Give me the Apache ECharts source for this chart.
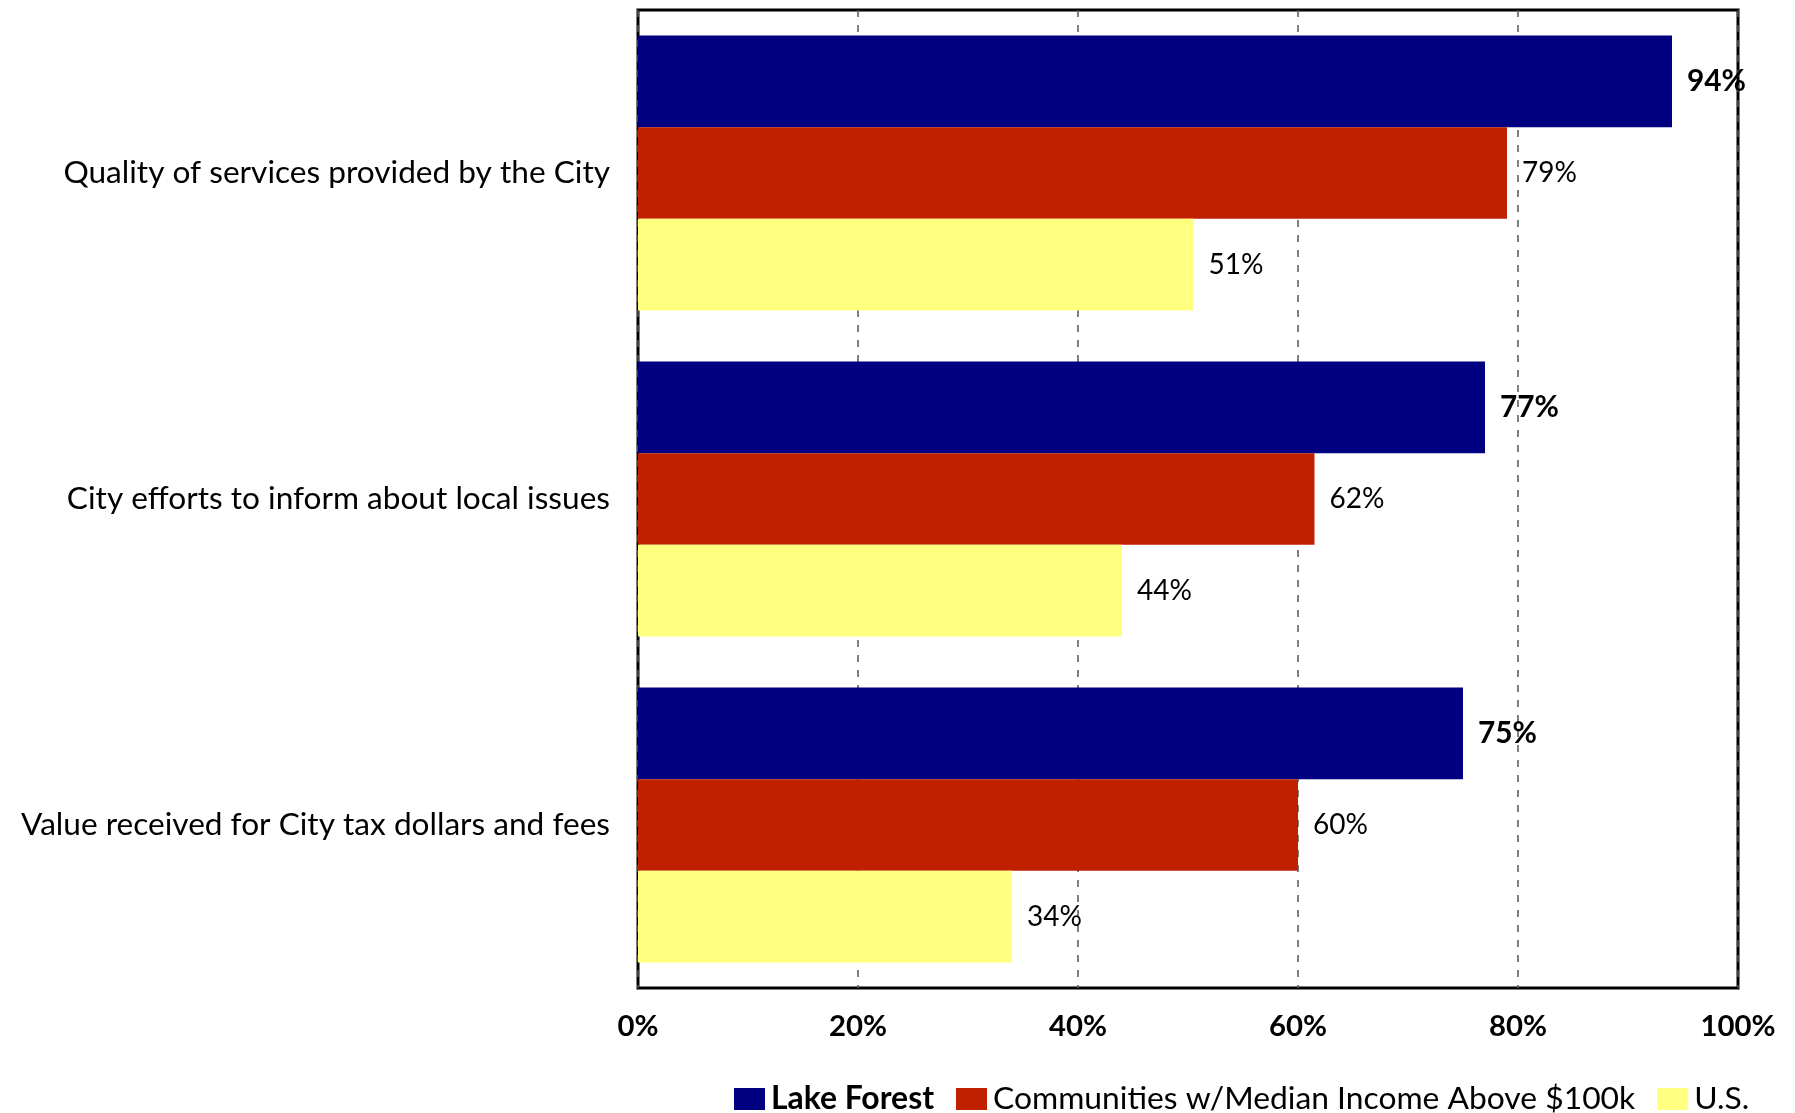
<!DOCTYPE html>
<html>
<head>
<meta charset="utf-8">
<script src="https://cdn.jsdelivr.net/npm/echarts@6/dist/echarts.min.js"></script>
<style>
html,body{margin:0;padding:0;background:#fff;}
#chart{width:1795px;height:1113px;}
</style>
</head>
<body>
<div id="chart"></div>
<script>
const categories = [
  'Quality of services provided by the City',
  'City efforts to inform about local issues',
  'Value received for City tax dollars and fees'
];
const seriesNames = ['Lake Forest', 'Communities w/Median Income Above $100k', 'U.S.'];
const lakeForest = [94, 77, 75];
const communities = [79, 61.5, 60];
const us = [50.5, 44, 34];
const axisMin = 0, axisMax = 100, axisStep = 20;

const FONT = 'Lato';
function fit(text, weight, target) {
  const c = document.createElement('canvas').getContext('2d');
  c.font = weight + ' 100px ' + FONT;
  return Math.round(1000 * target / c.measureText(text).width) / 10;
}
const catSize = fit(categories[0], 'normal', 547);
const valSize = fit('62%', 'normal', 55);
const valBoldSize = fit('94%', 'bold', 59);
const tickSize = fit('100%', 'bold', 75);
const legSize = fit(seriesNames[1], 'normal', 642);
const legBoldSize = fit(seriesNames[0], 'bold', 163);

const colors = ['#000080', '#C01F00', '#FFFF80'];
const pct = p => Math.round(p.value) + '%';

const chart = echarts.init(document.getElementById('chart'), null, {renderer: 'canvas'});
chart.setOption({
  animation: false,
  backgroundColor: '#fff',
  textStyle: {fontFamily: FONT},
  grid: {
    left: 638, right: 57, top: 10, bottom: 125,
    show: true, borderColor: '#000', borderWidth: 3, backgroundColor: 'transparent',
    containLabel: false
  },
  legend: {
    data: seriesNames,
    left: 734, top: 1083, padding: 0,
    itemWidth: 31, itemHeight: 22, itemGap: 22,
    icon: 'rect',
    formatter: n => n === seriesNames[0] ? '{b|' + n + '}' : '{n|' + n + '}',
    textStyle: {
      color: '#000', fontFamily: FONT, padding: [0, 0, 0, 1],
      rich: {
        b: {fontWeight: 'bold', fontSize: legBoldSize, lineHeight: 30, fontFamily: FONT, color: '#000'},
        n: {fontSize: legSize, lineHeight: 30, fontFamily: FONT, color: '#000'}
      }
    }
  },
  xAxis: {
    type: 'value', min: axisMin, max: axisMax, interval: axisStep,
    axisLine: {show: false}, axisTick: {show: false},
    axisLabel: {formatter: '{value}%', fontWeight: 'bold', fontSize: tickSize, color: '#000', margin: 24, fontFamily: FONT},
    splitLine: {show: true, lineStyle: {color: '#555', width: 1.5, type: [7, 8]}}
  },
  yAxis: {
    type: 'category', data: categories, inverse: true,
    axisLine: {show: false}, axisTick: {show: false},
    axisLabel: {fontSize: catSize, color: '#000', margin: 28, fontFamily: FONT},
    splitLine: {show: false}
  },
  series: [
    {name: seriesNames[0], type: 'bar', data: lakeForest, barGap: '0%', barCategoryGap: '15.7%',
     itemStyle: {color: colors[0]},
     label: {show: true, position: 'right', distance: 15, formatter: pct, fontWeight: 'bold', fontSize: valBoldSize, color: '#000', fontFamily: FONT}},
    {name: seriesNames[1], type: 'bar', data: communities, barGap: '0%', barCategoryGap: '15.7%',
     itemStyle: {color: colors[1]},
     label: {show: true, position: 'right', distance: 15, formatter: pct, fontSize: valSize, color: '#000', fontFamily: FONT}},
    {name: seriesNames[2], type: 'bar', data: us, barGap: '0%', barCategoryGap: '15.7%',
     itemStyle: {color: colors[2]},
     label: {show: true, position: 'right', distance: 15, formatter: pct, fontSize: valSize, color: '#000', fontFamily: FONT}}
  ]
});
</script>
</body>
</html>
